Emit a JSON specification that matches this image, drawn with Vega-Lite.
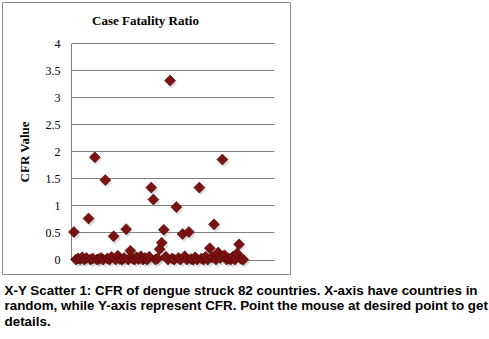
{
  "$schema": "https://vega.github.io/schema/vega-lite/v6.json",
  "padding": {"left": 2, "top": 2, "right": 2, "bottom": 2},
  "width": 288,
  "height": 272,
  "background": "#ffffff",
  "config": {
    "view": {"stroke": "#8a8a8a", "strokeWidth": 1},
    "axis": {"labelFont": "Liberation Serif", "titleFont": "Liberation Serif"}
  },
  "data": {
    "values": [
      {"i": 1, "cfr": 0.51}, {"i": 2, "cfr": 0.0}, {"i": 3, "cfr": 0.02}, {"i": 4, "cfr": 0.01},
      {"i": 5, "cfr": 0.04}, {"i": 6, "cfr": 0.0}, {"i": 7, "cfr": 0.03}, {"i": 8, "cfr": 0.76},
      {"i": 9, "cfr": 0.0}, {"i": 10, "cfr": 0.02}, {"i": 11, "cfr": 1.89}, {"i": 12, "cfr": 0.0},
      {"i": 13, "cfr": 0.01}, {"i": 14, "cfr": 0.03}, {"i": 15, "cfr": 0.0}, {"i": 16, "cfr": 1.47},
      {"i": 17, "cfr": 0.02}, {"i": 18, "cfr": 0.0}, {"i": 19, "cfr": 0.05}, {"i": 20, "cfr": 0.43},
      {"i": 21, "cfr": 0.0}, {"i": 22, "cfr": 0.07}, {"i": 23, "cfr": 0.01}, {"i": 24, "cfr": 0.0},
      {"i": 25, "cfr": 0.03}, {"i": 26, "cfr": 0.56}, {"i": 27, "cfr": 0.0}, {"i": 28, "cfr": 0.16},
      {"i": 29, "cfr": 0.02}, {"i": 30, "cfr": 0.0}, {"i": 31, "cfr": 0.04}, {"i": 32, "cfr": 0.01},
      {"i": 33, "cfr": 0.06}, {"i": 34, "cfr": 0.0}, {"i": 35, "cfr": 0.03}, {"i": 36, "cfr": 0.0},
      {"i": 37, "cfr": 0.05}, {"i": 38, "cfr": 1.33}, {"i": 39, "cfr": 1.11}, {"i": 40, "cfr": 0.0},
      {"i": 41, "cfr": 0.02}, {"i": 42, "cfr": 0.19}, {"i": 43, "cfr": 0.31}, {"i": 44, "cfr": 0.55},
      {"i": 45, "cfr": 0.05}, {"i": 46, "cfr": 0.0}, {"i": 47, "cfr": 3.31}, {"i": 48, "cfr": 0.02},
      {"i": 49, "cfr": 0.0}, {"i": 50, "cfr": 0.97}, {"i": 51, "cfr": 0.03}, {"i": 52, "cfr": 0.0},
      {"i": 53, "cfr": 0.47}, {"i": 54, "cfr": 0.06}, {"i": 55, "cfr": 0.0}, {"i": 56, "cfr": 0.51},
      {"i": 57, "cfr": 0.01}, {"i": 58, "cfr": 0.0}, {"i": 59, "cfr": 0.04}, {"i": 60, "cfr": 0.0},
      {"i": 61, "cfr": 1.33}, {"i": 62, "cfr": 0.02}, {"i": 63, "cfr": 0.0}, {"i": 64, "cfr": 0.05},
      {"i": 65, "cfr": 0.0}, {"i": 66, "cfr": 0.21}, {"i": 67, "cfr": 0.04}, {"i": 68, "cfr": 0.65},
      {"i": 69, "cfr": 0.0}, {"i": 70, "cfr": 0.13}, {"i": 71, "cfr": 0.03}, {"i": 72, "cfr": 1.85},
      {"i": 73, "cfr": 0.08}, {"i": 74, "cfr": 0.0}, {"i": 75, "cfr": 0.02}, {"i": 76, "cfr": 0.0},
      {"i": 77, "cfr": 0.05}, {"i": 78, "cfr": 0.0}, {"i": 79, "cfr": 0.11}, {"i": 80, "cfr": 0.28},
      {"i": 81, "cfr": 0.01}, {"i": 82, "cfr": 0.0}
    ]
  },
  "encoding": {
    "y": {
      "field": "cfr",
      "type": "quantitative",
      "scale": {"domain": [0, 4], "range": [257.5, 41.3], "nice": false, "zero": true},
      "axis": {
        "values": [0, 0.5, 1, 1.5, 2, 2.5, 3, 3.5, 4],
        "format": "~g",
        "offset": -69,
        "grid": true,
        "gridColor": "#808080",
        "gridOpacity": 1,
        "gridWidth": 1,
        "domain": true,
        "domainColor": "#808080",
        "domainWidth": 1,
        "ticks": false,
        "labelPadding": 11,
        "labelFontSize": 12,
        "labelColor": "#000000",
        "title": "CFR Value",
        "titleFontSize": 13,
        "titleFontWeight": "bold",
        "titleColor": "#000000",
        "titlePadding": 14
      }
    }
  },
  "layer": [
    {
      "mark": {"type": "point", "shape": "diamond", "filled": true, "size": 121, "color": "#9a9a9a", "opacity": 0.35, "xOffset": 1.5, "yOffset": 2.5, "strokeWidth": 0},
      "encoding": {
        "x": {
          "field": "i",
          "type": "quantitative",
          "scale": {"domain": [-0.4, 96.7], "range": [69, 272], "nice": false, "zero": false},
          "axis": {
            "orient": "top",
            "labels": false,
            "ticks": false,
            "domain": false,
            "grid": false,
            "title": "Case Fatality Ratio",
            "titleFont": "Liberation Serif",
            "titleFontSize": 13,
            "titleFontWeight": "bold",
            "titleColor": "#000000",
            "titleAnchor": null,
            "titleAlign": "center",
            "titleBaseline": "middle",
            "titleX": 143,
            "titleY": 18
          }
        }
      }
    },
    {
      "mark": {"type": "point", "shape": "diamond", "filled": true, "size": 121, "fill": "#7a1212", "opacity": 1, "stroke": "#4e0808", "strokeWidth": 0.6},
      "encoding": {
        "x": {
          "field": "i",
          "type": "quantitative",
          "axis": {
            "orient": "bottom",
            "labels": false,
            "ticks": false,
            "domain": false,
            "grid": false,
            "title": [
              "X-Y Scatter 1: CFR of dengue struck 82 countries. X-axis have countries in",
              "random, while Y-axis represent CFR. Point the mouse at desired point to get",
              "details."
            ],
            "titleFont": "Liberation Sans",
            "titleFontSize": 13.4,
            "titleFontWeight": "bold",
            "titleColor": "#000000",
            "titleAnchor": null,
            "titleAlign": "left",
            "titleBaseline": "top",
            "titleX": 2,
            "titleY": 9,
            "titleLineHeight": 15.8
          }
        }
      }
    }
  ]
}
